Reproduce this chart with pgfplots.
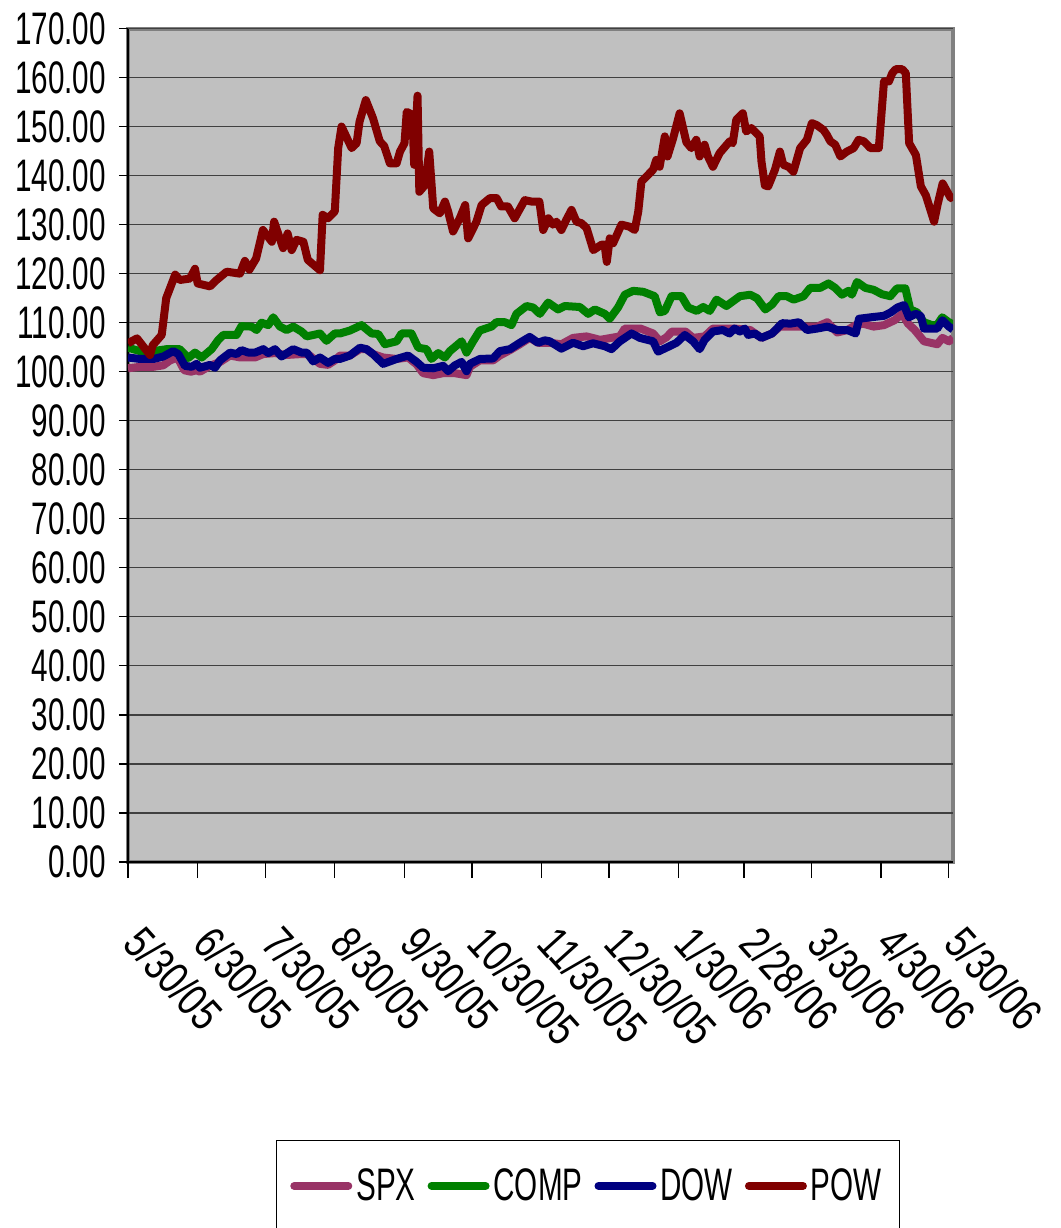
\documentclass[border=0pt]{standalone}
\usepackage{fontspec}
\setmainfont{Liberation Sans}[FakeStretch=0.65]
\newfontfamily\xlabfont{Liberation Sans}[FakeStretch=0.78]
\usepackage{pgfplots}
\pgfplotsset{compat=1.18}
\definecolor{spx}{HTML}{993366}
\definecolor{comp}{HTML}{008000}
\definecolor{dow}{HTML}{000080}
\definecolor{pow}{HTML}{800000}
\definecolor{plotbg}{HTML}{C0C0C0}
\definecolor{frame}{HTML}{808080}
\newcommand{\bigfont}{\fontsize{22.8}{24}\selectfont}
\newcommand{\xfont}{\xlabfont\fontsize{22.8}{24}\selectfont}
\begin{document}
\begin{tikzpicture}
\useasboundingbox (-64pt,-183pt) rectangle (466.5pt,431pt);
\begin{axis}[
  at={(0,0)}, anchor=south west,
  scale only axis, width=412.5pt, height=416.75pt,
  xmin=0, xmax=367, ymin=0, ymax=170,
  axis x line*=bottom, axis y line*=left,
  axis line style={black, line width=0.8pt},
  axis background/.style={fill=plotbg, draw=frame, line width=2pt},
  ytick={0,10,...,170},
  xtick={0,31,61,92,123,153,184,214,245,274,304,335,365},
  xticklabels={5/30/05,6/30/05,7/30/05,8/30/05,9/30/05,10/30/05,11/30/05,12/30/05,1/30/06,2/28/06,3/30/06,4/30/06,5/30/06},
  tick align=outside, major tick length=4.5pt,
  xtick style={/pgfplots/major tick length=8pt},
  tick style={black, line width=0.6pt},
  ymajorgrids, grid style={black!75, line width=0.6pt},
  /pgf/number format/assume math mode=true,
  y tick label style={font=\bigfont, xshift=-3pt, /pgf/number format/.cd, fixed, fixed zerofill, precision=2, 1000 sep={}},
  x tick label style={font=\xfont, xshift=9.5pt, yshift=-21pt, rotate=-48, anchor=north west},
  legend columns=4,
  legend style={at={(0.5576,-0.3335)}, anchor=north, draw=black, line width=0.5pt, font=\bigfont,
    inner xsep=7pt, inner ysep=12pt,
    /tikz/every even column/.append style={column sep=4pt}},
  legend image code/.code={\draw[#1, line cap=round] (0pt,0pt) -- (27pt,0pt);},
  every axis plot/.append style={line width=4pt, line join=round, no marks},
]
\addplot[spx] coordinates {
(0,100.7)(5.3,101)(11.3,101)(15.7,101.3)(18.7,102.3)(22,102.9)(25,100.3)(28,100)(30.5,100.3)(32,100)
(36.5,101.2)(41,102)(45.4,103.3)(50,102.9)(56.5,102.9)(60.2,103.6)(65.4,103.8)(70,103.4)(77.2,103.6)(80,103.6)
(85.4,101.6)(89,101.4)(92,102.3)(94.3,103.3)(98.7,103.3)(103.2,104.6)(106.1,104.6)(109,103.6)(113.5,102.9)(119.5,102.6)
(124.6,102.9)(128.4,101.5)(131.3,99.7)(135.8,99.3)(140.2,99.7)(145.4,99.7)(150.6,99.3)(152.1,101)(156.5,102.3)(162.4,102.3)
(165.4,103.3)(169.9,104.4)(174.3,105.6)(178.7,106.9)(182.4,105.9)(187.6,105.9)(192.8,105.6)(198,106.9)(204,107.2)(210,106.5)
(215,106.9)(218.8,107.2)(221,108.8)(228,108.8)(233.6,107.8)(236.6,106.2)(239.5,107)(242,108.2)(248,108.2)(251.4,106.9)
(256.5,107.2)(260.2,108.8)(270,108.8)(276.8,108.5)(281.8,106.9)(286.5,107.8)(290,109.2)(300,109.2)(306.6,109.2)(311.1,110.1)
(315.5,108)(320,108.5)(323.7,109.5)(327,109.8)(331.7,109.2)(336.3,109.5)(341,110.5)(344.4,111.8)(347,109.8)(350,108.5)
(354.1,106.2)(360,105.6)(362.3,106.9)(365.2,106.2)(367,106.9)
};
\addlegendentry{SPX}
\addplot[comp] coordinates {
(0,104.9)(5.3,104.2)(11.3,104.2)(17.2,104.6)(23,104.6)(26.8,102.8)(29.8,103.9)(32.8,102.9)(37.2,104.6)(40.2,106.5)
(42.4,107.5)(48.3,107.5)(50.5,109.3)(55,109.2)(57.2,108.5)(59.4,110)(62.4,109.5)(64.6,111.1)(67.6,109.2)(70.6,108.5)
(73.5,109.2)(77.2,108.2)(79.5,107.2)(85.4,107.8)(88.3,106.3)(92,107.8)(94.3,107.8)(98.7,108.4)(103.9,109.5)(108.4,107.8)
(111.3,107.7)(114.3,105.6)(119.5,106.2)(121.7,107.8)(126.1,107.8)(129.1,104.9)(132.8,104.6)(135,102.6)(138,103.8)(141,102.9)
(143.2,104.2)(148.4,106.2)(150.6,103.9)(153.5,106.2)(156.5,108.4)(161.7,109.2)(163.9,110.1)(167.6,110.1)(170.6,109.5)(172.8,111.8)
(177.3,113.4)(180.2,113.1)(183.2,111.8)(186.9,114.1)(191.3,112.7)(194.3,113.4)(201,113.2)(204.7,111.8)(207.7,112.7)(212.1,111.8)
(214.3,110.8)(218,113.1)(221,115.7)(224.7,116.5)(229.2,116.3)(234.3,115.4)(236.6,112.1)(238.8,112.4)(241.8,115.4)(246.2,115.4)
(249.2,113.1)(253,112.4)(255.9,113.2)(258.8,112.4)(261.8,114.7)(266.2,113.4)(272.2,115.4)(276.8,115.7)(279.8,115)(283.5,112.7)
(286.5,113.7)(289.4,115.4)(293.1,115.4)(296.1,114.7)(300.5,115.4)(303.5,117.1)(307.9,117.1)(311.6,118)(314.6,117.1)(317.6,115.7)
(320.5,116.5)(322,115.7)(324.3,118.3)(328,117.1)(331.7,116.7)(335.4,115.8)(339.1,115.4)(342.1,117)(345.8,117)(348,112.7)
(351,112.1)(354,110.1)(357.7,109.5)(359.9,109.5)(362.2,111.1)(365.1,110.1)(367,109.7)
};
\addlegendentry{COMP}
\addplot[dow] coordinates {
(0,102.9)(5.3,102.6)(11.3,102.6)(15.7,103.1)(20.1,104.2)(22.4,103.6)(25.3,101.2)(28.3,101)(30.5,101.6)(32,100.8)
(36.5,101.4)(38.7,100.8)(40.9,102.3)(45.4,103.9)(48.3,103.6)(50.5,104.4)(53.5,103.9)(56.5,103.9)(60.2,104.6)(62.4,103.8)
(65.4,104.6)(68.3,103.1)(73.5,104.6)(77.2,103.9)(79.5,103.9)(82.4,102.1)(85.4,102.9)(89,101.8)(92,102.6)(94.3,102.6)
(98.7,103.3)(103.2,104.9)(106.1,104.6)(109,103.6)(113.5,101.6)(119.5,102.6)(124.6,103.3)(128.4,102)(131.3,100.8)(135.8,100.7)
(140.2,101.2)(142.4,100.1)(145.4,101.3)(148.4,102)(150.6,100.1)(152.1,101.6)(156.5,102.6)(162.4,102.7)(165.4,104.2)(169.9,104.6)
(174.3,105.9)(178.7,107.1)(182.4,105.9)(185.4,106.4)(187.6,106.2)(192.8,104.7)(198,105.9)(202.5,105.2)(206.9,105.8)(212.1,105.2)
(215.1,104.6)(218.8,106.2)(224,107.8)(227.7,106.9)(233.6,106.2)(235.8,104.1)(239.5,104.9)(244,105.9)(247.7,107.5)(251.4,106.2)
(254.3,104.6)(256.5,106.5)(260.2,108.2)(264.6,108.5)(267.6,107.8)(269.8,108.8)(272.2,108.2)(274.4,108.8)(275.9,107.5)(278.8,107.8)
(281.8,106.9)(286.5,107.8)(291,109.9)(294.7,109.8)(298.4,110.1)(302.1,108.5)(306.6,108.8)(311.1,109.2)(315.5,108.5)(320,108.5)
(323.7,107.8)(325.2,110.8)(330.4,111.1)(336.3,111.4)(339.3,112.1)(342.3,113.1)(345.2,113.6)(347.4,111.1)(350.4,111.8)(352.6,111.4)
(354.1,108.8)(360,108.8)(362.3,110.5)(365.2,109.2)(367,108.6)
};
\addlegendentry{DOW}
\addplot[pow] coordinates {
(0,105.8)(4,106.8)(9.8,103.4)(11,105.4)(15,107.5)(17,115)(21,119.8)(23,118.7)(27.6,119)(29.8,121)
(31,118)(36.5,117.4)(39.4,118.7)(43.9,120.4)(49.8,120)(52,122.6)(54,120.8)(57,123.1)(60,128.9)(64,126.5)
(65,130.6)(69,125.2)(71,128.2)(72.8,124.8)(75,126.9)(78,126.5)(80,122.8)(85.4,120.7)(86.6,132)(89,131.3)
(92,132.7)(93.5,145.6)(95,150)(99.5,145.6)(101.7,146.6)(103,151)(105.8,155.4)(109,151.7)(112,147)(114,146)
(116.5,142.5)(119.5,142.5)(121,144.9)(123,146.6)(124,153)(126.5,152.4)(127.3,142.2)(128.8,156.3)(129.6,136.7)(132,138)
(134,144.9)(135.8,133.3)(138.7,132.3)(141,134.7)(142.4,132.7)(144.6,128.6)(147.6,131.3)(150,134)(151.3,127.2)(155,130.6)
(157.3,134)(161,135.4)(164,135.4)(166,133.7)(169,133.7)(172,131.3)(176.5,135)(179.5,134.7)(183,134.7)(184.7,128.9)
(187,131.3)(189,130)(190.6,130.6)(192.8,128.9)(195,131)(197.3,133)(199.5,130.6)(201.7,130.3)(204,129.3)(207,124.8)
(210.6,125.9)(212,125.9)(213,122.4)(214.3,127.2)(215.8,126.2)(219.5,130)(223,129.6)(225.4,128.9)(227,132.7)(228.4,138.8)
(230.6,139.8)(233.6,141.2)(235,143.2)(236.5,141.8)(238.8,148)(240,143.9)(242.5,147.6)(245.4,152.7)(248.4,146.8)(250.6,145.6)
(252.8,147.3)(254.3,143.9)(256.5,146.3)(258,143.9)(260.2,141.8)(263.2,144.6)(267.7,147)(269,146.6)(270.6,151.4)(273.5,152.7)
(275,149)(277.3,149.7)(281,148)(281.8,142.9)(283.3,138)(284.8,137.8)(287.8,141.2)(290,144.9)(291.5,142.2)(293.8,141.8)
(296,140.8)(299,145.6)(302,147.3)(304.2,150.7)(306.4,150.3)(309.4,149.3)(310.9,148.3)(312.4,147)(314.6,146.3)(316.9,143.9)
(319.8,144.9)(322.8,145.6)(325,147.3)(327.3,147)(330.3,145.6)(334,145.6)(336.3,159.2)(338.5,159.2)(340,160.9)(341.5,161.7)
(344.4,161.7)(346,160.9)(347.5,146.6)(350.5,144.2)(352.7,137.8)(354.9,136)(358.6,130.6)(360.1,134)(362.4,138.4)(366,135.4)
(367,136)
};
\addlegendentry{POW}
\end{axis}
\end{tikzpicture}
\end{document}
